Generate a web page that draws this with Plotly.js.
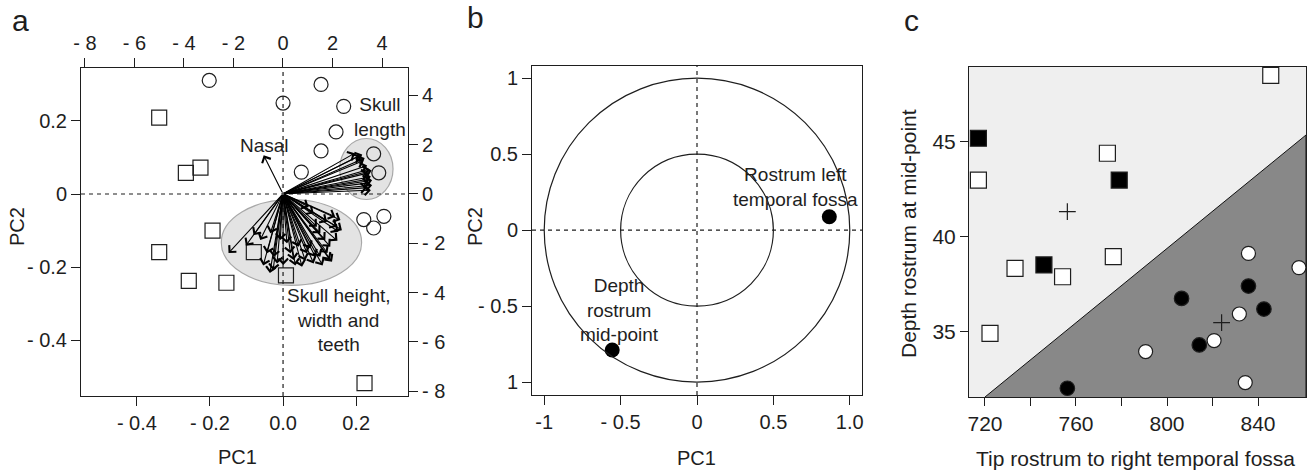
<!DOCTYPE html>
<html><head><meta charset="utf-8">
<script src="https://cdn.plot.ly/plotly-3.0.1.min.js"></script>
<style>html,body{margin:0;padding:0;background:#fff}#chart{width:1312px;height:474px}</style>
</head><body><div id="chart"></div>
<script>
// ---------- Panel a: PCA scores (bottom/left axes) ----------
const aCircleX = [-0.202,0.104,0.000,0.166,0.145,0.104,0.050,0.248,0.262,0.221,0.276,0.248];
const aCircleY = [0.311,0.300,0.249,0.240,0.170,0.118,0.060,0.110,0.058,-0.070,-0.061,-0.093];
const aSquareX = [-0.339,-0.266,-0.226,-0.193,-0.339,-0.258,-0.155,-0.080,0.008,0.223];
const aSquareY = [0.209,0.058,0.072,-0.100,-0.159,-0.238,-0.243,-0.159,-0.223,-0.518];
// loadings (top/right axes)
const nasalLoad = [-0.78, 1.56];
const lengthLoadX = [2.90,3.10,3.30,3.25,3.40,3.50,3.45,3.55,3.60,3.50,3.60,3.40,3.55,3.50,3.20,3.58];
const lengthLoadY = [1.65,1.55,1.45,1.35,1.15,1.00,0.85,0.70,0.55,0.45,0.35,0.25,0.15,0.60,1.60,0.95];
const shapeLoadX = [-2.20,-1.19,-0.53,0.01,0.43,0.77,1.24,1.51,1.98,1.91,2.38,2.32,2.11,1.78,1.24,1.51,-0.65,-0.38,-0.92,-0.24,0.30,0.63,0.97,1.31,1.71,2.24,1.37,1.04,2.18,0.16,-0.51,-0.11,0.90,1.60,1.10,0.50,1.80,2.20,-0.80,-0.40,-1.50,1.90];
const shapeLoadY = [-2.40,-1.67,-3.21,-2.88,-2.68,-2.95,-2.82,-2.55,-2.75,-2.14,-1.47,-1.06,-0.93,-1.13,-0.79,-1.60,-2.41,-2.55,-1.87,-2.82,-2.41,-2.14,-2.41,-2.55,-1.87,-1.53,-1.33,-0.53,-1.33,-2.00,-1.60,-1.87,-2.70,-2.90,-2.20,-2.90,-2.40,-1.90,-2.90,-3.10,-2.10,-2.68];
const aTickBottom = [-0.4,-0.2,0,0.2], aTickBottomText = ['- 0.4','- 0.2','0.0','0.2'];
const aTickLeft = [-0.4,-0.2,0,0.2], aTickLeftText = ['- 0.4','- 0.2','0','0.2'];
const aTickTop = [-8,-6,-4,-2,0,2,4], aTickTopText = ['- 8','- 6','- 4','- 2','0','2','4'];
const aTickRight = [-8,-6,-4,-2,0,2,4], aTickRightText = ['- 8','- 6','- 4','- 2','0','2','4'];

// ---------- Panel b: correlation circle ----------
const bPointX = [0.866,-0.555];
const bPointY = [0.088,-0.789];
const bRadii = [1, 0.5];
const bTickX = [-1,-0.5,0,0.5,1], bTickXText = ['-1','- 0.5','0','0.5','1.0'];
const bTickY = [1,0.5,0,-0.5,-1], bTickYText = ['1','0.5','0','- 0.5','1'];

// ---------- Panel c: discriminant plot ----------
const cOpenSqX = [845.6,717.1,773.8,733.2,754.1,776.4,722.2];
const cOpenSqY = [48.49,42.98,44.39,38.33,37.89,38.95,34.91];
const cFillSqX = [717.1,779.0,745.9];
const cFillSqY = [45.18,42.98,38.51];
const cOpenCiX = [835.8,858.0,831.8,820.7,790.6,834.4];
const cOpenCiY = [39.12,38.37,35.93,34.53,33.95,32.32];
const cFillCiX = [806.4,835.8,842.6,814.2,756.2];
const cFillCiY = [36.75,37.40,36.19,34.30,32.02];
const cCentroidX = [756.2,824.0];
const cCentroidY = [41.32,35.47];
const cBoundaryX = [720, 861.1];
const cBoundaryY = [31.56, 45.35];
const cTickX = [720,740,760,780,800,820,840], cTickXText = ['720','','760','','800','','840'];
const cTickY = [35,40,45];

const W = 1312, H = 474;
const px = v => v / W, py = v => 1 - v / H;
const FONT = 'Liberation Sans, Arial, Helvetica, sans-serif';
const INK = '#1e1e1e';
const tickF = {family: FONT, size: 20, color: INK};

function axBase(extra) {
  return Object.assign({showgrid:false, zeroline:false, ticks:'outside', ticklen:9, tickwidth:1,
    tickcolor:INK, linecolor:INK, linewidth:1, tickfont:tickF, tickmode:'array', fixedrange:true}, extra);
}

const ink = {color:INK, width:1.2};
const traces = [
  // panel a
  {type:'scatter', mode:'markers', x:aCircleX, y:aCircleY, xaxis:'x', yaxis:'y',
   marker:{symbol:'circle', size:14, color:'rgba(255,255,255,0)', line:ink}, hoverinfo:'skip'},
  {type:'scatter', mode:'markers', x:aSquareX, y:aSquareY, xaxis:'x', yaxis:'y',
   marker:{symbol:'square', size:15, color:'rgba(255,255,255,0)', line:ink}, hoverinfo:'skip'},
  {type:'scatter', mode:'markers', x:[0], y:[0], xaxis:'x2', yaxis:'y2',
   marker:{size:1, opacity:0}, hoverinfo:'skip'},
  // panel b
  {type:'scatter', mode:'markers', x:bPointX, y:bPointY, xaxis:'x3', yaxis:'y3',
   marker:{symbol:'circle', size:15, color:'#000'}, hoverinfo:'skip'},
  // panel c
  {type:'scatter', mode:'lines', x:[...cBoundaryX, cBoundaryX[1]], y:[...cBoundaryY, cBoundaryY[0]],
   xaxis:'x4', yaxis:'y4', fill:'toself', fillcolor:'#888888', line:{color:'#111', width:1}, hoverinfo:'skip'},
  {type:'scatter', mode:'markers', x:cOpenSqX, y:cOpenSqY, xaxis:'x4', yaxis:'y4',
   marker:{symbol:'square', size:16, color:'#fff', line:ink}, hoverinfo:'skip'},
  {type:'scatter', mode:'markers', x:cFillSqX, y:cFillSqY, xaxis:'x4', yaxis:'y4',
   marker:{symbol:'square', size:16, color:'#000', line:ink}, hoverinfo:'skip'},
  {type:'scatter', mode:'markers', x:cOpenCiX, y:cOpenCiY, xaxis:'x4', yaxis:'y4',
   marker:{symbol:'circle', size:14, color:'#fff', line:ink}, hoverinfo:'skip'},
  {type:'scatter', mode:'markers', x:cFillCiX, y:cFillCiY, xaxis:'x4', yaxis:'y4',
   marker:{symbol:'circle', size:14.5, color:'#000', line:ink}, hoverinfo:'skip'},
  {type:'scatter', mode:'markers', x:cCentroidX, y:cCentroidY, xaxis:'x4', yaxis:'y4',
   marker:{symbol:'cross-thin', size:12, line:{color:INK, width:1.2}}, hoverinfo:'skip'}
];

const dash = {color:INK, width:1.2, dash:'4px,4px'};
const shapes = [
  // panel a ellipses + axes
  {type:'circle', xref:'x', yref:'y', x0:-0.169, x1:0.215, y0:-0.250, y1:-0.015, fillcolor:'#e3e3e3', line:{color:'#a8a8a8', width:1.2}, layer:'below'},
  {type:'circle', xref:'x', yref:'y', x0:0.155, x1:0.301, y0:-0.015, y1:0.152, fillcolor:'#e3e3e3', line:{color:'#a8a8a8', width:1.2}, layer:'below'},
  {type:'line', xref:'x', yref:'y domain', x0:0, x1:0, y0:0, y1:1, line:dash},
  {type:'line', xref:'x domain', yref:'y', x0:0, x1:1, y0:0, y1:0, line:dash},
  // panel b
  {type:'line', xref:'x3', yref:'y3 domain', x0:0, x1:0, y0:0, y1:1, line:dash},
  {type:'line', xref:'x3 domain', yref:'y3', x0:0, x1:1, y0:0, y1:0, line:dash},
  // panel c background
  {type:'rect', xref:'x4 domain', yref:'y4 domain', x0:0, x1:1, y0:0, y1:1, fillcolor:'#efefef', line:{width:0}, layer:'below'}
];
bRadii.forEach(r => shapes.push({type:'circle', xref:'x3', yref:'y3', x0:-r, x1:r, y0:-r, y1:r, line:{color:INK, width:1.2}}));

const txt = (s) => ({family: FONT, size: s, color: INK});
const annotations = [];
function arrow(x, y) {
  annotations.push({xref:'x2', yref:'y2', axref:'x2', ayref:'y2', x:x, y:y, ax:0, ay:0, text:'',
    showarrow:true, arrowhead:4, arrowsize:1.7, arrowwidth:1.1, arrowcolor:'#000', standoff:0, startstandoff:0});
}
arrow(nasalLoad[0], nasalLoad[1]);
lengthLoadX.forEach((v,i) => arrow(v, lengthLoadY[i]));
shapeLoadX.forEach((v,i) => arrow(v, shapeLoadY[i]));

const lab = (xref, yref, x, y, text, size, extra) => annotations.push(Object.assign({xref, yref, x, y, text, showarrow:false, font:txt(size), xanchor:'center', yanchor:'middle'}, extra||{}));
lab('x','y',-0.050,0.132,'Nasal',19);
lab('x','y',0.264,0.210,'Skull<br>length',19);
lab('x','y',0.153,-0.344,'Skull height,<br>width and<br>teeth',19);
lab('x3','y3',0.643,0.285,'Rostrum left<br>temporal fossa',19);
lab('x3','y3',-0.505,-0.526,'Depth<br>rostrum<br>mid-point',19);
// axis titles
lab('paper','paper',px(237),py(457),'PC1',20);
lab('paper','paper',px(17),py(227),'PC2',20,{textangle:-90});
lab('paper','paper',px(696),py(458),'PC1',20);
lab('paper','paper',px(475),py(227),'PC2',20,{textangle:-90});
lab('paper','paper',px(1135),py(458),'Tip rostrum to right temporal fossa',21);
lab('paper','paper',px(908),py(233),'Depth rostrum at mid-point',21,{textangle:-90});
// panel letters
lab('paper','paper',px(20),py(20),'a',30);
lab('paper','paper',px(475),py(18),'b',30);
lab('paper','paper',px(911),py(20),'c',30);

const layout = {
  width:W, height:H, margin:{l:0,r:0,t:0,b:0}, paper_bgcolor:'#fff', plot_bgcolor:'rgba(0,0,0,0)',
  showlegend:false, font:{family:FONT, color:INK},
  xaxis: axBase({domain:[px(81),px(408)], range:[-0.553,0.342], anchor:'y', showline:true, mirror:true, tickvals:aTickBottom, ticktext:aTickBottomText}),
  yaxis: axBase({domain:[py(396),py(68)], range:[-0.553,0.345], anchor:'x', showline:true, mirror:true, tickvals:aTickLeft, ticktext:aTickLeftText}),
  xaxis2: axBase({overlaying:'x', side:'top', anchor:'y', range:[-8.16,5.05], tickvals:aTickTop, ticktext:aTickTopText}),
  yaxis2: axBase({overlaying:'y', side:'right', anchor:'x', range:[-8.19,5.1], tickvals:aTickRight, ticktext:aTickRightText}),
  xaxis3: axBase({domain:[px(532),px(862)], range:[-1.08,1.08], anchor:'y3', showline:true, mirror:true, tickvals:bTickX, ticktext:bTickXText}),
  yaxis3: axBase({domain:[py(395),py(66)], range:[-1.085,1.08], anchor:'x3', showline:true, mirror:true, tickvals:bTickY, ticktext:bTickYText}),
  xaxis4: axBase({domain:[px(969),px(1306)], range:[712.97,861.1], anchor:'y4', showline:true, mirror:true, ticklen:8, tickvals:cTickX, ticktext:cTickXText, tickfont:txt(21)}),
  yaxis4: axBase({domain:[py(397),py(67)], range:[31.56,48.93], anchor:'x4', showline:true, mirror:true, ticklen:8, tickvals:cTickY, ticktext:cTickY.map(String), tickfont:txt(21)}),
  shapes, annotations
};
Plotly.newPlot('chart', traces, layout, {displayModeBar:false, staticPlot:true});
</script></body></html>
